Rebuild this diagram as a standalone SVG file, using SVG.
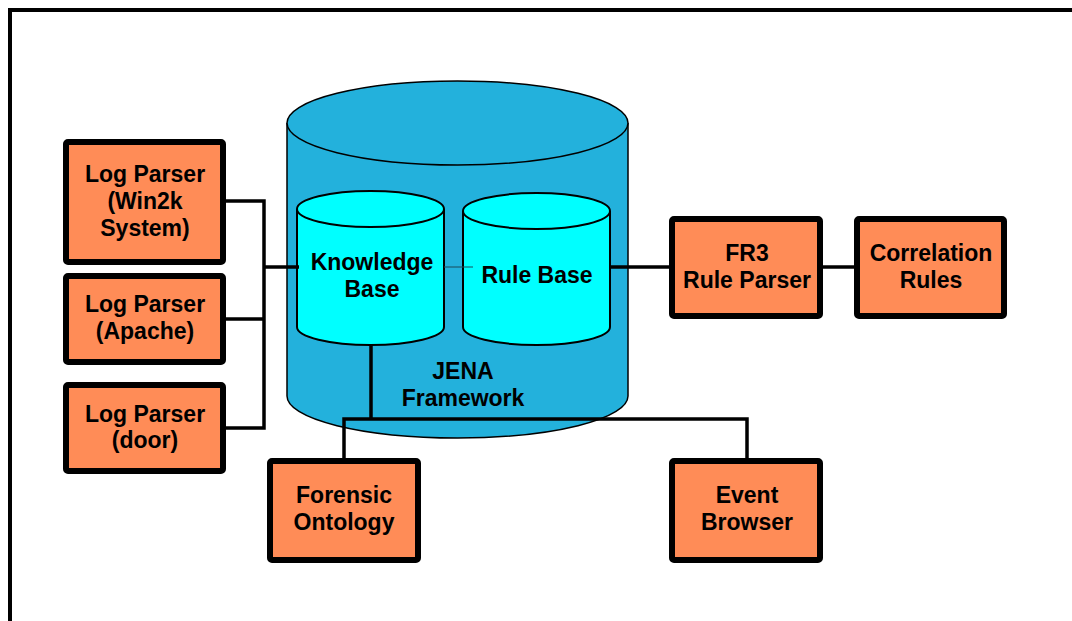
<svg xmlns="http://www.w3.org/2000/svg" width="1072" height="621" viewBox="0 0 1072 621">
  <style>
    .box { fill: #FF8C57; stroke: #000; stroke-width: 6; }
    .lbl { font-family: "Liberation Sans", Arial, sans-serif; font-weight: bold; font-size: 23px; fill: #000; text-anchor: middle; }
    .wire { fill: none; stroke: #000; stroke-width: 3.5; stroke-linejoin: miter; }
    .outer { fill: #23B1DC; stroke: #000; stroke-width: 1.5; }
    .inner { fill: #00FFFF; stroke: #000; stroke-width: 2; }
  </style>
  <rect width="1072" height="621" fill="#fff"/>
  <!-- page frame -->
  <path d="M10 621 V10 H1072" fill="none" stroke="#000" stroke-width="4"/>

  <!-- JENA framework container -->
  <g id="jena">
    <path class="outer" d="M287 123 V396 A170.5 42 0 0 0 628 396 V123"/>
    <ellipse class="outer" cx="457.5" cy="123" rx="170.5" ry="42"/>
    <text class="lbl" x="463" y="379">JENA</text>
    <text class="lbl" x="463" y="406">Framework</text>
  </g>

  <g id="knowledge-base">
    <path class="inner" d="M297 209 V327 A73.5 18 0 0 0 444 327 V209"/>
    <ellipse class="inner" cx="370.5" cy="209" rx="73.5" ry="18"/>
    <text class="lbl" x="372" y="270">Knowledge</text>
    <text class="lbl" x="372" y="297">Base</text>
  </g>

  <g id="rule-base">
    <path class="inner" d="M463 211 V327 A73.5 18 0 0 0 610 327 V211"/>
    <ellipse class="inner" cx="536.5" cy="211" rx="73.5" ry="18"/>
    <text class="lbl" x="537" y="283">Rule Base</text>
  </g>

  <!-- connectors -->
  <g id="connectors">
    <path class="wire" d="M226 201 H264 V428 H226"/>
    <path class="wire" d="M226 319 H264"/>
    <path class="wire" d="M264 267 H299"/>
    <path d="M444 267 H473" stroke="#1a4a5a" stroke-width="1"/>
    <path class="wire" d="M610 267 H669"/>
    <path class="wire" d="M823 267 H854"/>
    <path class="wire" d="M371 345 V419"/>
    <path class="wire" d="M344 458 V419 H747 V458"/>
  </g>

  <g id="log-parser-win2k">
    <rect class="box" x="66" y="142" width="157" height="120" rx="2"/>
    <text class="lbl" x="145" y="182">Log Parser</text>
    <text class="lbl" x="145" y="209">(Win2k</text>
    <text class="lbl" x="145" y="236">System)</text>
  </g>

  <g id="log-parser-apache">
    <rect class="box" x="66" y="276" width="157" height="86" rx="2"/>
    <text class="lbl" x="145" y="312">Log Parser</text>
    <text class="lbl" x="145" y="339">(Apache)</text>
  </g>

  <g id="log-parser-door">
    <rect class="box" x="66" y="385" width="157" height="86" rx="2"/>
    <text class="lbl" x="145" y="422">Log Parser</text>
    <text class="lbl" x="145" y="448">(door)</text>
  </g>

  <g id="fr3-rule-parser">
    <rect class="box" x="672" y="219" width="148" height="97" rx="2"/>
    <text class="lbl" x="747" y="261">FR3</text>
    <text class="lbl" x="747" y="288">Rule Parser</text>
  </g>

  <g id="correlation-rules">
    <rect class="box" x="857" y="219" width="147" height="97" rx="2"/>
    <text class="lbl" x="931" y="261">Correlation</text>
    <text class="lbl" x="931" y="288">Rules</text>
  </g>

  <g id="forensic-ontology">
    <rect class="box" x="270" y="461" width="148" height="99" rx="2"/>
    <text class="lbl" x="344" y="503">Forensic</text>
    <text class="lbl" x="344" y="530">Ontology</text>
  </g>

  <g id="event-browser">
    <rect class="box" x="672" y="461" width="148" height="99" rx="2"/>
    <text class="lbl" x="747" y="503">Event</text>
    <text class="lbl" x="747" y="530">Browser</text>
  </g>
</svg>
